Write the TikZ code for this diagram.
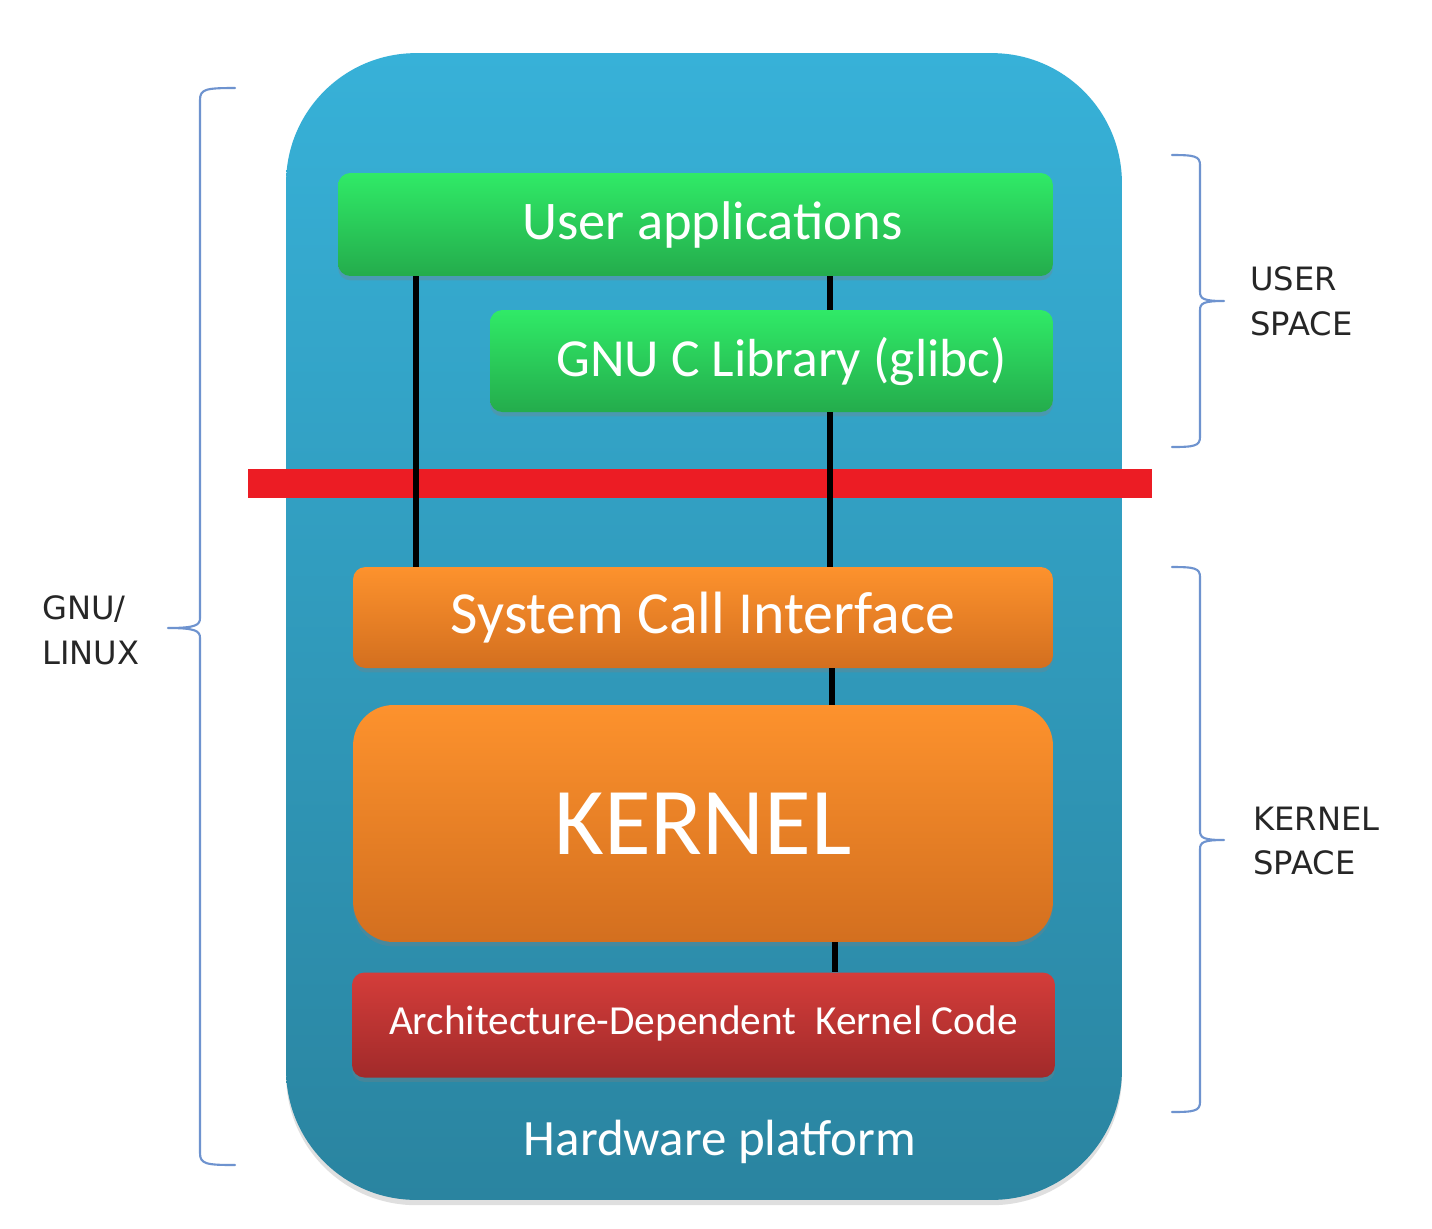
\documentclass[tikz,border=0pt]{standalone}
\usepackage{fontspec}
\setmainfont{Carlito}
\newfontfamily\sidefont{DejaVu Sans}
\usetikzlibrary{shadows}
\definecolor{boardtop}{HTML}{37B1D8}
\definecolor{boardbot}{HTML}{2A84A0}
\definecolor{greentop}{HTML}{30EA67}
\definecolor{greenbot}{HTML}{24AC4C}
\definecolor{orangetop}{HTML}{FD922D}
\definecolor{orangebot}{HTML}{D36F1F}
\definecolor{archtop}{HTML}{D43D3A}
\definecolor{archbot}{HTML}{A12A2A}
\definecolor{barred}{HTML}{EC1C24}
\definecolor{bracecol}{HTML}{6E93CF}
\tikzset{
  layer/.style={rounded corners=7pt, text=white, inner sep=0pt,
    drop shadow={opacity=0.3, shadow xshift=0pt, shadow yshift=-2.5pt}},
  userbox/.style={layer, top color=greentop, bottom color=greenbot},
  kernbox/.style={layer, top color=orangetop, bottom color=orangebot},
  archbox/.style={layer, top color=archtop, bottom color=archbot},
  link/.style={line width=3.3pt, black},
  brace/.style={draw=bracecol, line width=1.2pt},
  side/.style={font=\sidefont\fontsize{18.3}{25.5}\selectfont, text=black!85, align=left, anchor=west, inner sep=0pt}
}
\begin{document}
\begin{tikzpicture}[line join=round, line cap=round, x=0.02cm, y=-0.02cm]
  \def \W{1432};
  \def \H{1228};
  \fill[white] (0,0) rectangle (\W,\H);
  \useasboundingbox (0,0) rectangle (\W,\H);
  % platform
  \node[rounded corners=74pt, top color=boardtop, bottom color=boardbot, minimum width=16.72cm, minimum height=22.94cm, inner sep=0pt,
    drop shadow={opacity=0.25, shadow xshift=0pt, shadow yshift=-3pt}] (board) at (704,626.5) {};
  \fill[barred] (248,469) rectangle (1152,498);
  % layers
  \node[userbox, minimum width=14.3cm, minimum height=2.06cm, font=\fontsize{31}{31}\selectfont] (ua) at (695.5,224.5) {\hspace{0.68cm}User applications};
  \node[userbox, minimum width=11.26cm, minimum height=2.04cm, font=\fontsize{30.5}{30}\selectfont] (glibc) at (771.5,361) {\hspace{0.4cm}GNU C Library (glibc)};
  \node[kernbox, minimum width=14cm, minimum height=2.02cm, font=\fontsize{34}{34}\selectfont] (sci) at (703,617.5) {System Call Interface};
  \node[kernbox, rounded corners=23pt, minimum width=14cm, minimum height=4.74cm, font=\fontsize{54.5}{54}\selectfont] (kernel) at (703,823.5) {KERNEL};
  \node[archbox, minimum width=14.06cm, minimum height=2.1cm, font=\fontsize{23.5}{23}\selectfont] (arch) at (703.5,1025) {\raisebox{0.2cm}{Architecture-Dependent\ \ Kernel Code}};
  \node[text=white, font=\fontsize{29}{29}\selectfont, inner sep=0pt] (hw) at (720,1142) {Hardware platform};
  % calls
  \foreach \a/\b/\xx in {ua/sci/416, ua/glibc/830, glibc/sci/830, sci/kernel/832, kernel/arch/835}{
    \coordinate (t) at (\xx,0);
    \draw[link, line cap=butt] (\a.south -| t) -- (\b.north -| t);
  }
  % braces
  \draw[brace] (235,88) .. controls (206,88) and (200,89) .. (200,100) -- (200,618) .. controls (200,625) and (196,628) .. (168,628)
    .. controls (196,628) and (200,631) .. (200,638) -- (200,1153) .. controls (200,1164) and (206,1165) .. (235,1165);
  \foreach \ya/\ym/\yb in {155/301/447, 567/840/1112}{
    \draw[brace] (1172,\ya) .. controls (1194,\ya) and (1200,\ya+1) .. (1200,\ya+10) -- (1200,\ym-9) .. controls (1200,\ym-2) and (1204,\ym) .. (1224,\ym)
      .. controls (1204,\ym) and (1200,\ym+2) .. (1200,\ym+9) -- (1200,\yb-10) .. controls (1200,\yb-1) and (1194,\yb) .. (1172,\yb);
  }
  \node[side] (gnu) at (42,630) {GNU/\\LINUX};
  \node[side] (us) at (1250,301) {USER\\SPACE};
  \node[side] (ks) at (1253,841) {KERNEL\\SPACE};
\end{tikzpicture}
\end{document}
